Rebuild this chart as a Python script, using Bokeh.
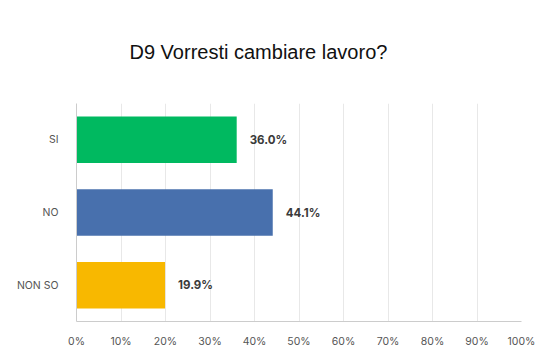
from bokeh.plotting import figure
from bokeh.models import ColumnDataSource, FixedTicker, Range1d, FactorRange
from bokeh.embed import file_html
from bokeh.resources import INLINE

categories = ["SI", "NO", "NON SO"]
values = [36.0, 44.1, 19.9]
colors = ["#00B960", "#4870AD", "#F8B800"]
title_text = "D9 Vorresti cambiare lavoro?"
x_ticks = [0, 10, 20, 30, 40, 50, 60, 70, 80, 90, 100]

labels = [f"{v:.1f}%" for v in values]
src = ColumnDataSource(dict(cat=categories, val=values, color=colors, lab=labels))

p = figure(width=550, height=351, output_backend="svg", toolbar_location=None,
           y_range=FactorRange(factors=categories[::-1], range_padding=0),
           x_range=Range1d(0, 100), title=title_text,
           min_border_left=76, min_border_right=29, min_border_top=103, min_border_bottom=30)
p.outline_line_color = None
p.hbar(y="cat", right="val", left=0, height=0.64, color="color", line_color=None, source=src)
p.text(x="val", y="cat", text="lab", source=src, x_offset=13, text_baseline="middle",
       text_font_size="11.5px", text_font_style="bold", text_color="#3a3a3a",
       text_font={"value": "Inter"})

p.title.align = "left"
p.title.offset = 53
p.title.vertical_align = "top"
p.title.standoff = 78
p.title.text_font = "Liberation Sans"
p.title.text_font_size = "20px"
p.title.text_font_style = "normal"
p.title.text_color = "#111111"

p.xaxis.ticker = FixedTicker(ticks=x_ticks)
p.xaxis.major_label_overrides = {t: f"{t}%" for t in x_ticks}
p.xaxis.major_tick_line_color = None
p.xaxis.minor_tick_line_color = None
p.xaxis.axis_line_color = "#cccccc"
p.xaxis.major_label_text_font = "Inter"
p.xaxis.major_label_text_font_size = "10.5px"
p.xaxis.major_label_text_color = "#555555"
p.xaxis.major_label_standoff = 7

p.yaxis.major_tick_line_color = None
p.yaxis.axis_line_color = "#cccccc"
p.yaxis.major_label_text_font = "Inter"
p.yaxis.major_label_text_font_size = "10.5px"
p.yaxis.major_label_text_color = "#555555"
p.yaxis.major_label_standoff = 12

p.xgrid.grid_line_color = "#e8e8e8"
p.ygrid.grid_line_color = None

open("out.html", "w").write(file_html(p, INLINE))
